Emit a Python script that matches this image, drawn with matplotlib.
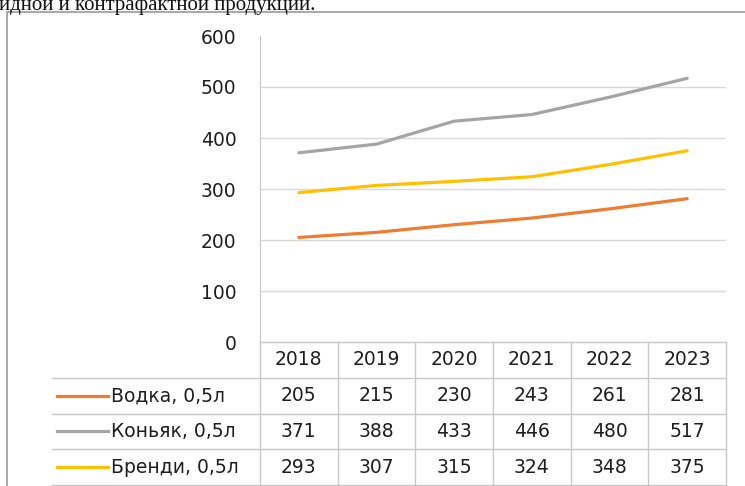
import numpy as np
import matplotlib
matplotlib.use("Agg")
import matplotlib.pyplot as plt
from matplotlib import transforms
from matplotlib.patches import Rectangle

# data
years = ["2018", "2019", "2020", "2021", "2022", "2023"]
series_names = ["Водка, 0,5л", "Коньяк, 0,5л", "Бренди, 0,5л"]
vodka = [205, 215, 230, 243, 261, 281]
cognac = [371, 388, 433, 446, 480, 517]
brandy = [293, 307, 315, 324, 348, 375]
series_values = [vodka, cognac, brandy]
colors = ["#ED7D31", "#A5A5A5", "#FFC000"]
y_ticks = [0, 100, 200, 300, 400, 500, 600]

plt.rcParams['font.family'] = ['DejaVu Sans']
FS = 13.5

W, H = 745, 486
fig = plt.figure(figsize=(W / 100, H / 100), dpi=100)

def box(x0, y0, x1, y1):
    # pixel box (top-left origin) -> figure fraction rect
    return [x0 / W, 1 - y1 / H, (x1 - x0) / W, (y1 - y0) / H]

# outer frame of the chart (goes past the right/bottom edge of the crop)
fig.patches.append(Rectangle((7 / W, -0.1), 1.2, 1 - 12 / H + 0.1,
                             transform=fig.transFigure, fill=False,
                             edgecolor="#9A9A9A", linewidth=1.2))

# cut-off line of body text above the chart
fig.text(-1 / W, 1 - 10 / H, "идной и контрафактной продукции.",
         family="Liberation Serif", fontsize=15, color="#111111",
         ha="left", va="baseline")

grid_col = "#C8C8C8"
text_col = "#1E1E1E"

# plot area
plot_l, plot_r, plot_t, plot_b = 260, 726, 36, 342
ax = fig.add_axes(box(plot_l, plot_t, plot_r, plot_b))
n = len(years)
x = np.arange(n)
ax.set_xlim(-0.5, n - 0.5)
ax.set_ylim(0, 600)
for vals, c in zip(series_values, colors):
    ax.plot(x, vals, color=c, linewidth=2.3, solid_capstyle="round")
for t in y_ticks[1:-1]:
    ax.axhline(t, color="#D9D9D9", linewidth=1, zorder=0)
ax.set_yticks(y_ticks)
ax.set_yticklabels([str(t) for t in y_ticks], fontsize=FS, color=text_col)
ax.tick_params(axis="y", length=0, pad=17)
ax.set_xticks([])
for s in ["top", "right", "bottom"]:
    ax.spines[s].set_visible(False)
ax.spines["left"].set_color(grid_col)
ax.patch.set_alpha(0)

# data table under the plot
tab_l, tab_b = 52, 485
axt = fig.add_axes(box(tab_l, plot_b, plot_r, tab_b))
px_per_unit = (plot_r - plot_l) / n
axt.set_xlim(-0.5 - (plot_l - tab_l) / px_per_unit, n - 0.5)
axt.set_ylim(4, 0)
axt.axis("off")

lk = dict(color=grid_col, linewidth=1, clip_on=False)
axt.plot([-0.5, n - 0.5], [0, 0], **lk)
x_left = axt.get_xlim()[0]
for r in range(1, 5):
    axt.plot([x_left, n - 0.5], [r, r], **lk)
for i in range(n + 1):
    axt.plot([i - 0.5, i - 0.5], [0, 4], **lk)

for i, yr in enumerate(years):
    axt.text(i, 0.5, yr, ha="center", va="center", fontsize=FS, color=text_col)

blend = transforms.blended_transform_factory(axt.transAxes, axt.transData)
span = plot_r - tab_l
for r, (name, vals, c) in enumerate(zip(series_names, series_values, colors), start=1):
    axt.plot([(57 - tab_l) / span, (108 - tab_l) / span], [r + 0.5, r + 0.5],
             color=c, linewidth=2.3, transform=blend, clip_on=False)
    axt.text((111 - tab_l) / span, r + 0.5, name, transform=blend,
             ha="left", va="center", fontsize=FS, color=text_col)
    for i, v in enumerate(vals):
        axt.text(i, r + 0.5, str(v), ha="center", va="center",
                 fontsize=FS, color=text_col)

fig.savefig("out.png", dpi=100)
